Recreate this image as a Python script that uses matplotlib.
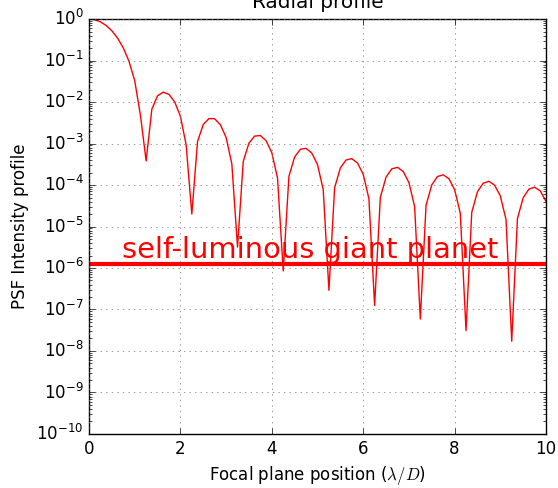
import matplotlib
matplotlib.use('Agg')
import matplotlib.pyplot as plt

# radial profile samples (step 0.125 lambda/D)
position = [i * 0.125 for i in range(81)]
intensity = [
    1.0, 0.962, 0.855, 0.699, 0.521, 0.3475, 0.2017, 0.0961,
    0.0328, 4.86e-3, 3.8e-4, 6.72e-3, 1.413e-2, 1.731e-2, 1.529e-2, 1.007e-2,
    4.54e-3, 9.39e-4, 2.0e-5, 1.117e-3, 2.871e-3, 4.006e-3, 3.939e-3, 2.843e-3,
    1.40e-3, 3.26e-4, 3.2e-6, 3.69e-4, 1.026e-3, 1.512e-3, 1.555e-3, 1.171e-3,
    6.01e-4, 1.475e-4, 8.5e-7, 1.636e-4, 4.757e-4, 7.249e-4, 7.657e-4, 5.905e-4,
    3.104e-4, 7.77e-5, 2.9e-7, 8.61e-5, 2.58e-4, 4.01e-4, 4.318e-4, 3.393e-4,
    1.817e-4, 4.68e-5, 1.25e-7, 5.08e-5, 1.553e-4, 2.448e-4, 2.669e-4, 2.124e-4,
    1.152e-4, 3.03e-5, 5.9e-8, 3.24e-5, 1.006e-4, 1.601e-4, 1.763e-4, 1.418e-4,
    7.77e-5, 2.07e-5, 3.1e-8, 2.19e-5, 6.88e-5, 1.104e-4, 1.226e-4, 9.92e-5,
    5.48e-5, 1.48e-5, 1.72e-8, 1.55e-5, 4.91e-5, 7.94e-5, 8.86e-5, 7.21e-5,
    4.01e-5,
]

# planet contrast level
planet_x = [0, 10]
planet_level = [1.25e-6, 1.25e-6]
planet_label = 'self-luminous giant planet'

plt.style.use('classic')
plt.rcParams['figure.facecolor'] = 'white'
plt.rcParams['savefig.facecolor'] = 'white'

fig = plt.figure(figsize=(5.58, 4.88), dpi=100)
ax = fig.add_axes([0.1595, 0.1107, 0.819, 0.8503])

ax.semilogy(position, intensity, color='r', lw=1.0)
ax.plot(planet_x, planet_level, color='r', lw=3)
ax.text(0.72, 1.75e-6, planet_label, color='r', fontsize=20.8)

ax.set_xlim(0, 10)
ax.set_ylim(1e-10, 1)
ax.grid(True, color='0.45')
ax.set_title('Radial profile', pad=8)
ax.set_xlabel(r'Focal plane position ($\lambda/D$)')
ax.set_ylabel('PSF Intensity profile')

fig.savefig('out.png', dpi=100)
